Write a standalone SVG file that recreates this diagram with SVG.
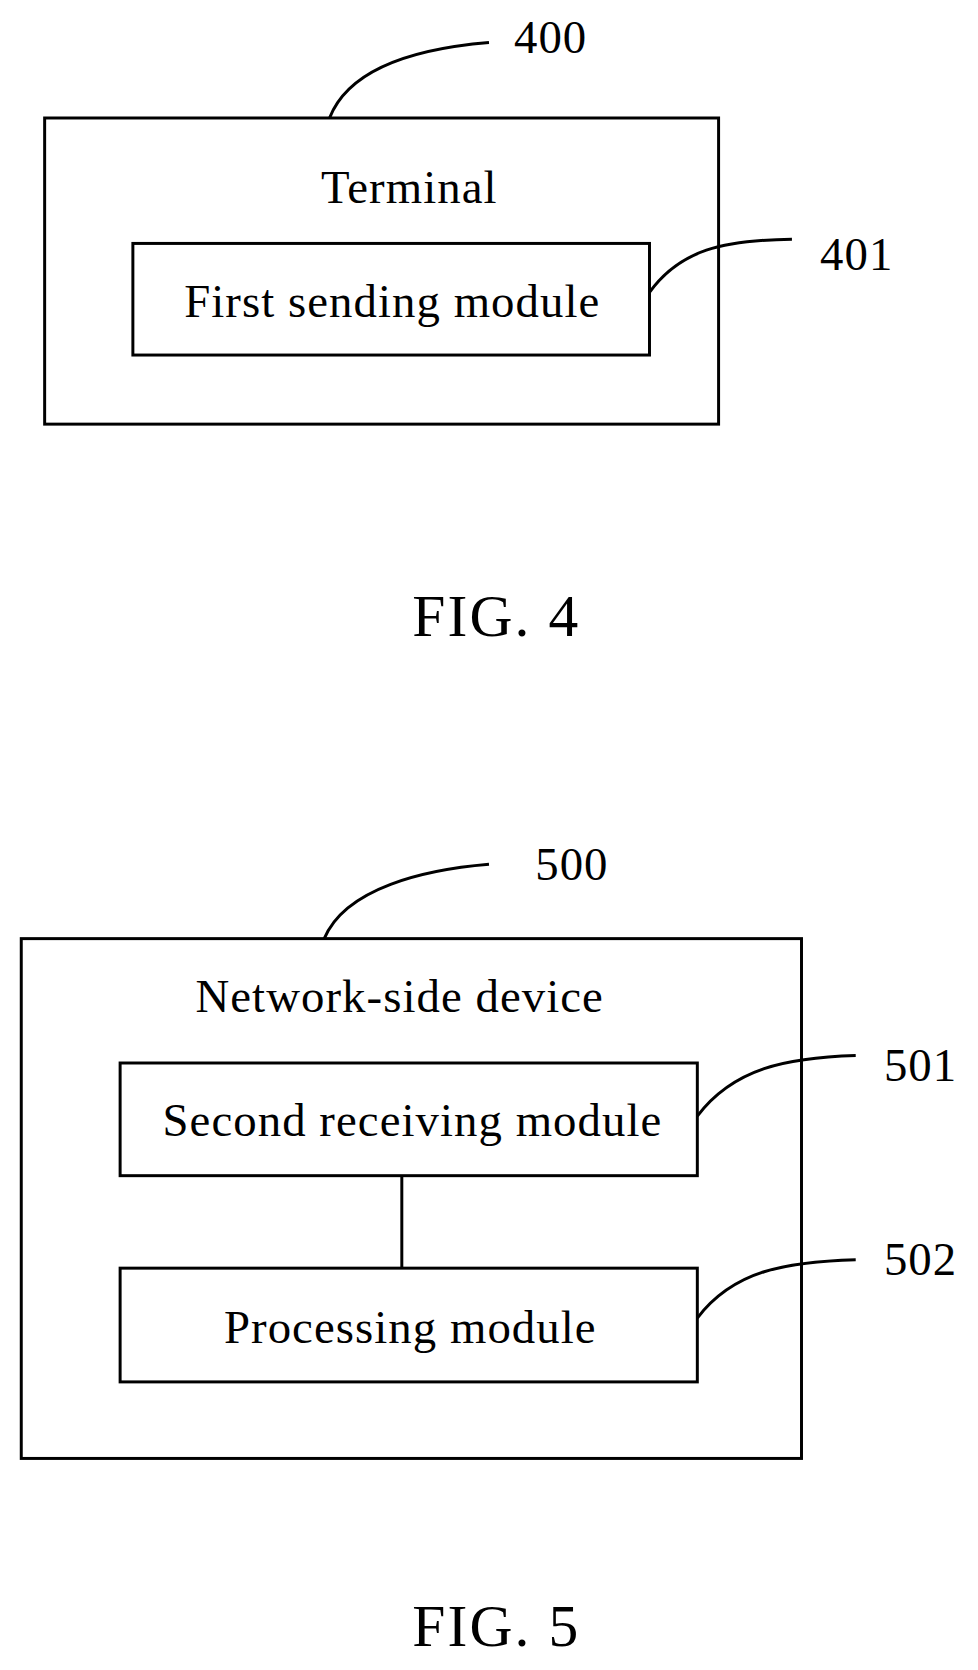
<svg xmlns="http://www.w3.org/2000/svg" width="978" height="1670" viewBox="0 0 978 1670">
<style>
.b{fill:none;stroke:#000;stroke-width:2.8}
.l{fill:none;stroke:#000;stroke-width:2.8}
text{font-family:"Liberation Serif",serif;font-size:44px;letter-spacing:1px;fill:#000;text-anchor:middle}
.f{font-size:56px;letter-spacing:2px}
</style>
<rect width="978" height="1670" fill="#fff"/>
<g transform="scale(1.063)">
<g id="n400"><rect class="b" x="42" y="111" width="634" height="288"/><text x="385" y="191">Terminal</text></g>
<g id="n401"><rect class="b" x="125" y="229" width="486" height="105"/><text x="369" y="298">First sending module</text></g>
<g id="n500"><rect class="b" x="20" y="883" width="734" height="489"/><text x="376" y="952">Network-side device</text></g>
<g id="n501"><rect class="b" x="113" y="1000" width="543" height="106"/><text x="388" y="1069">Second receiving module</text></g>
<g id="n502"><rect class="b" x="113" y="1193" width="543" height="107"/><text x="386" y="1263">Processing module</text></g>
<g id="connectors">
<path class="l" d="M310 111 C330 60 400 45 460 40"/>
<path class="l" d="M611 275 C640 235 680 226 745 225"/>
<path class="l" d="M305 883 C325 835 400 818 460 813"/>
<path class="l" d="M656 1050 C690 1005 740 995 805 993"/>
<path class="l" d="M656 1240 C690 1195 740 1187 805 1185"/>
<path class="l" d="M378 1106 V1193"/>
</g>
<g id="labels">
<text x="518" y="50">400</text>
<text x="806" y="254">401</text>
<text x="538" y="828">500</text>
<text x="866" y="1017">501</text>
<text x="866" y="1199">502</text>
<text class="f" x="467" y="598">FIG. 4</text>
<text class="f" x="467" y="1548">FIG. 5</text>
</g>
</g>
</svg>
